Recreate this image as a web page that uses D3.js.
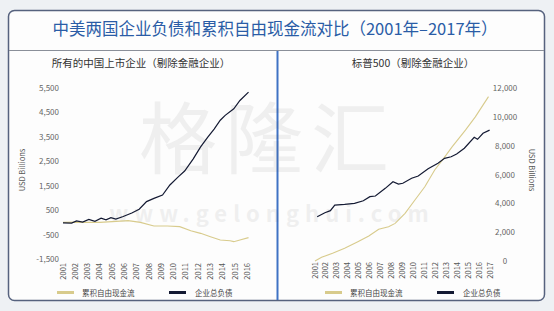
<!DOCTYPE html>
<html>
<head>
<meta charset="utf-8">
<script src="https://cdn.jsdelivr.net/npm/d3@7"></script>
<style>
  body { margin: 0; background: #eef1f4; }
  svg { display: block; font-family: "Noto Sans CJK SC", "Noto Sans", sans-serif; }
</style>
</head>
<body>
<svg id="chart" width="554" height="311"></svg>
<script>
// China listed companies (ex financials), USD billions
var cnDebtYears = [2001.0, 2001.7, 2002.1, 2002.6, 2003.1, 2003.6, 2004.1, 2004.5, 2004.9, 2005.3, 2005.9, 2006.6, 2007.2, 2007.8, 2008.4, 2009.1, 2009.7, 2010.4, 2010.9, 2011.6, 2012.2, 2012.8, 2013.3, 2013.8, 2014.2, 2014.9, 2015.4, 2016.1];
var cnDebt = [-20, -30, 60, 10, 120, 40, 170, 100, 190, 130, 240, 380, 540, 850, 980, 1120, 1530, 1870, 2100, 2600, 3090, 3500, 3820, 4180, 4380, 4650, 4990, 5330];
var cnFcfYears = [2001.0, 2002.0, 2003.0, 2004.0, 2005.0, 2006.3, 2007.3, 2008.4, 2009.5, 2010.5, 2011.4, 2012.2, 2013.0, 2013.8, 2014.6, 2014.9, 2015.4, 2016.1];
var cnFcf = [0, 10, 0, 0, 30, 70, 0, -150, -150, -175, -340, -450, -585, -720, -750, -790, -720, -625];
var cnYearLabels = d3.range(2001, 2017);
var cnTicks = [5500, 4500, 3500, 2500, 1500, 500, -500, -1500];

// S&P 500 (ex financials), USD billions
var usDebtYears = [2001.2, 2001.9, 2002.4, 2002.8, 2003.7, 2004.6, 2005.4, 2006.0, 2006.5, 2007.4, 2008.1, 2008.6, 2009.0, 2009.8, 2010.4, 2011.3, 2012.2, 2012.8, 2013.4, 2013.9, 2014.6, 2015.5, 2015.8, 2016.3, 2016.9];
var usDebt = [3070, 3350, 3490, 3880, 3930, 4000, 4180, 4460, 4510, 5040, 5500, 5340, 5390, 5740, 5900, 6400, 6780, 7120, 7230, 7420, 7820, 8580, 8440, 8860, 9080];
var usFcfYears = [2001.0, 2001.6, 2002.6, 2003.7, 2004.9, 2005.9, 2006.8, 2007.7, 2008.3, 2009.2, 2010.1, 2011.0, 2011.9, 2012.7, 2013.5, 2014.7, 2015.6, 2016.8];
var usFcf = [0, 260, 530, 880, 1340, 1730, 2200, 2380, 2610, 3310, 4230, 5150, 6310, 7100, 7930, 9080, 10000, 11400];
var usYearLabels = d3.range(2001, 2018);
var usTicks = [12000, 10000, 8000, 6000, 4000, 2000, 0];

var legendNames = ["累积自由现金流", "企业总负债"];
var gold = "#d8cb8c", navy = "#141a33";

var svg = d3.select("#chart");

// frame
svg.append("rect").attr("x", 8.5).attr("y", 10.5).attr("width", 536).attr("height", 290)
  .attr("rx", 6).attr("fill", "#fdfdfd").attr("stroke", "#56627e").attr("stroke-width", 1.5);
svg.append("line").attr("x1", 9).attr("x2", 544).attr("y1", 50.5).attr("y2", 50.5)
  .attr("stroke", "#8a8f99").attr("stroke-width", 1);
svg.append("line").attr("x1", 277.5).attr("x2", 277.5).attr("y1", 51).attr("y2", 300)
  .attr("stroke", "#3f72c4").attr("stroke-width", 2);

svg.append("text").attr("x", 275).attr("y", 35).attr("text-anchor", "middle")
  .attr("font-size", 16.5).attr("fill", "#2a5ca6")
  .text("中美两国企业负债和累积自由现金流对比（2001年–2017年）");

// watermark
var wm = svg.append("g").attr("opacity", 0.08).attr("fill", "#555");
wm.append("text").attr("x", 268).attr("y", 168).attr("text-anchor", "middle")
  .attr("font-size", 78).attr("letter-spacing", 8).text("格隆汇");
wm.append("text").attr("x", 272).attr("y", 222).attr("text-anchor", "middle")
  .attr("font-size", 22).attr("font-weight", "bold").attr("letter-spacing", 6).text("www.gelonghui.com");

function drawPanel(o) {
  var g = svg.append("g");
  var x = d3.scaleLinear().domain(o.xDomain).range(o.xRange);
  var y = d3.scaleLinear().domain(o.yDomain).range(o.yRange);

  g.append("text").attr("x", o.titleX).attr("y", 67).attr("text-anchor", "middle")
    .attr("font-size", 10.5).attr("fill", "#333").text(o.title);

  // y ticks
  g.selectAll(".ytick").data(o.ticks).enter().append("text")
    .attr("x", o.tickX).attr("y", function(d) { return y(d) + 3; })
    .attr("text-anchor", o.tickAnchor).attr("font-size", 8).attr("fill", "#666")
    .text(function(d) { return d < 0 ? "-" + d3.format(",")(-d) : d3.format(",")(d); });

  // year labels
  g.selectAll(".xtick").data(o.years).enter().append("text")
    .attr("transform", function(d) { return "translate(" + (x(d) + 2.5) + "," + o.yearY + ") rotate(-90)"; })
    .attr("text-anchor", "end").attr("font-size", 7.5).attr("fill", "#555")
    .text(function(d) { return d; });

  g.append("text")
    .attr("transform", "translate(" + o.unitX + ",170) rotate(" + o.unitRot + ")")
    .attr("text-anchor", "middle").attr("font-size", 7.5).attr("fill", "#555").text("USD Billions");

  var line = d3.line().x(function(d) { return x(d[0]); }).y(function(d) { return y(d[1]); });
  g.append("path").datum(d3.zip(o.fcfYears, o.fcf)).attr("d", line)
    .attr("fill", "none").attr("stroke", gold).attr("stroke-width", 1.1);
  g.append("path").datum(d3.zip(o.debtYears, o.debt)).attr("d", line)
    .attr("fill", "none").attr("stroke", navy).attr("stroke-width", 1.2);

  // legend
  var lg = g.append("g").attr("transform", "translate(0,292.5)");
  lg.append("line").attr("x1", o.legX[0]).attr("x2", o.legX[0] + 17).attr("stroke", gold).attr("stroke-width", 3);
  lg.append("text").attr("x", o.legX[0] + 25).attr("y", 3).attr("font-size", 7.5).attr("fill", "#444").text(legendNames[0]);
  lg.append("line").attr("x1", o.legX[1]).attr("x2", o.legX[1] + 17).attr("stroke", navy).attr("stroke-width", 3);
  lg.append("text").attr("x", o.legX[1] + 26).attr("y", 3).attr("font-size", 7.5).attr("fill", "#444").text(legendNames[1]);
}

drawPanel({
  title: "所有的中国上市企业（剔除金融企业）", titleX: 141,
  xDomain: [2001, 2016], xRange: [63, 247.3],
  yDomain: [-1500, 5500], yRange: [259, 88],
  ticks: cnTicks, tickX: 59, tickAnchor: "end",
  years: cnYearLabels, yearY: 263,
  unitX: 25, unitRot: -90,
  debtYears: cnDebtYears, debt: cnDebt, fcfYears: cnFcfYears, fcf: cnFcf,
  legX: [57, 169]
});

drawPanel({
  title: "标普500（剔除金融企业）", titleX: 413,
  xDomain: [2001, 2017], xRange: [315, 490.7],
  yDomain: [0, 12000], yRange: [261, 88],
  ticks: usTicks, tickX: 505, tickAnchor: "middle",
  years: usYearLabels, yearY: 262,
  unitX: 529, unitRot: 90,
  debtYears: usDebtYears, debt: usDebt, fcfYears: usFcfYears, fcf: usFcf,
  legX: [325, 437]
});
</script>
</body>
</html>
